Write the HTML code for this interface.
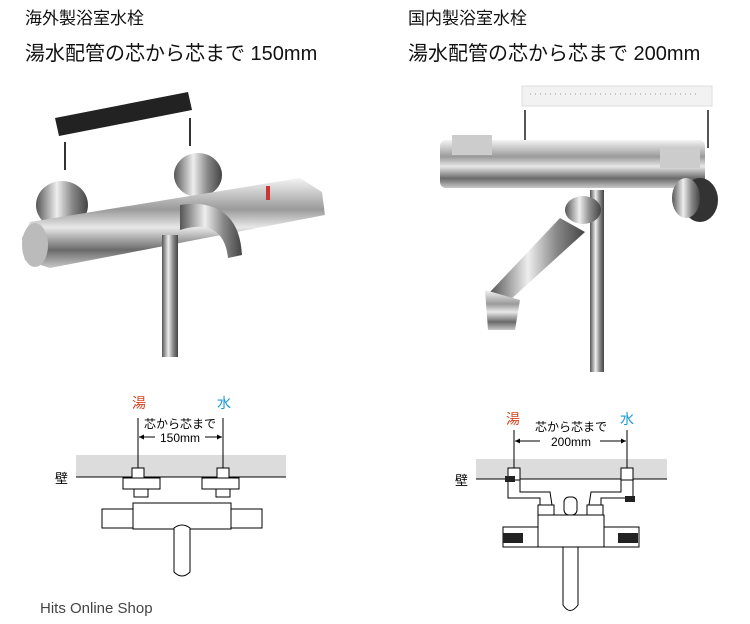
<!DOCTYPE html>
<html><head><meta charset="utf-8"><style>
body{margin:0;width:750px;height:624px;background:#fff;overflow:hidden;font-family:"Liberation Sans","Noto Sans CJK JP",sans-serif}
svg{display:block}
</style></head><body>
<svg width="750" height="624" viewBox="0 0 750 624" xmlns="http://www.w3.org/2000/svg" font-family="Liberation Sans, Noto Sans CJK JP, sans-serif">
<defs>
<linearGradient id="chr" x1="0" y1="0" x2="0" y2="1">
<stop offset="0" stop-color="#f4f4f4"/><stop offset=".35" stop-color="#9a9a9a"/><stop offset=".55" stop-color="#e8e8e8"/><stop offset=".8" stop-color="#6a6a6a"/><stop offset="1" stop-color="#c8c8c8"/></linearGradient>
<linearGradient id="chv" x1="0" y1="0" x2="1" y2="0">
<stop offset="0" stop-color="#555"/><stop offset=".4" stop-color="#eee"/><stop offset=".7" stop-color="#888"/><stop offset="1" stop-color="#444"/></linearGradient>
<marker id="ar" viewBox="0 0 10 10" refX="10" refY="5" markerWidth="6" markerHeight="5" orient="auto"><path d="M0,0L10,5L0,10z" fill="#000"/></marker>
</defs>
<!-- titles -->
<text x="25" y="24" font-size="17" fill="#111">海外製浴室水栓</text>
<text x="25" y="60" font-size="20" fill="#111">湯水配管の芯から芯まで 150mm</text>
<text x="408" y="24" font-size="17" fill="#111">国内製浴室水栓</text>
<text x="408" y="60" font-size="20" fill="#111">湯水配管の芯から芯まで 200mm</text>

<!-- left photo -->
<polygon points="55,118 188,92 192,110 59,136" fill="#222"/>
<line x1="65" y1="142" x2="65" y2="170" stroke="#333" stroke-width="2"/>
<line x1="190" y1="118" x2="190" y2="146" stroke="#333" stroke-width="2"/>
<ellipse cx="62" cy="205" rx="26" ry="24" fill="url(#chv)"/>
<ellipse cx="198" cy="175" rx="24" ry="22" fill="url(#chv)"/>
<polygon points="30,222 300,178 322,192 325,215 50,268 25,260 22,238" fill="url(#chr)"/>
<ellipse cx="35" cy="245" rx="13" ry="22" fill="#bbb"/>
<path d="M180,205 C210,200 240,210 242,255 L228,258 C225,228 205,222 180,230z" fill="url(#chv)"/>
<rect x="162" y="235" width="16" height="122" fill="url(#chv)"/>
<rect x="266" y="186" width="4" height="14" fill="#c33"/>

<!-- right photo -->
<rect x="522" y="86" width="190" height="20" fill="#f2f2f2" stroke="#ddd"/>
<g stroke="#999" stroke-width="1">
<line x1="530" y1="94" x2="700" y2="94" stroke-dasharray="1 4"/>
</g>
<line x1="525" y1="110" x2="525" y2="142" stroke="#555" stroke-width="2"/>
<line x1="708" y1="110" x2="708" y2="148" stroke="#555" stroke-width="2"/>
<rect x="440" y="140" width="265" height="48" rx="6" fill="url(#chr)"/>
<rect x="452" y="135" width="40" height="20" fill="#ccc"/>
<rect x="660" y="148" width="40" height="20" fill="#ccc"/>
<ellipse cx="700" cy="200" rx="18" ry="22" fill="#333"/>
<ellipse cx="686" cy="198" rx="14" ry="20" fill="url(#chv)"/>
<rect x="590" y="190" width="14" height="182" fill="url(#chv)"/>
<ellipse cx="583" cy="210" rx="18" ry="14" fill="url(#chv)"/>
<polygon points="560,218 585,232 510,300 490,292" fill="url(#chv)"/>
<polygon points="485,290 520,300 515,330 488,330" fill="url(#chr)"/>

<!-- left diagram -->
<rect x="76" y="455" width="210" height="22" fill="#dcdcdc"/>
<line x1="76" y1="477" x2="286" y2="477" stroke="#000"/>
<text x="55" y="483" font-size="13" fill="#000">壁</text>
<text x="132" y="408" font-size="14" fill="#d9431e">湯</text>
<text x="217" y="408" font-size="14" fill="#1b9ad6">水</text>
<line x1="138" y1="418" x2="138" y2="470" stroke="#000"/>
<line x1="223" y1="418" x2="223" y2="470" stroke="#000"/>
<text x="180" y="428" font-size="12" text-anchor="middle">芯から芯まで</text>
<text x="180" y="442" font-size="12" text-anchor="middle">150mm</text>
<line x1="155" y1="437" x2="139" y2="437" stroke="#000" marker-end="url(#ar)"/>
<line x1="205" y1="437" x2="222" y2="437" stroke="#000" marker-end="url(#ar)"/>
<g fill="#fff" stroke="#000">
<rect x="132" y="468" width="12" height="10"/><rect x="217" y="468" width="12" height="10"/>
<rect x="123" y="478" width="37" height="11"/><rect x="202" y="478" width="37" height="11"/>
<rect x="134" y="489" width="14" height="8"/><rect x="216" y="489" width="14" height="8"/>
<rect x="102" y="509" width="160" height="19"/>
<rect x="133" y="503" width="98" height="26"/>
<path d="M174,528 L174,572 Q182,580 190,572 L190,528 Q182,522 174,528z"/>
</g>

<!-- right diagram -->
<rect x="476" y="459" width="191" height="20" fill="#dcdcdc"/>
<line x1="476" y1="479" x2="667" y2="479" stroke="#000"/>
<text x="455" y="485" font-size="13" fill="#000">壁</text>
<text x="506" y="424" font-size="14" fill="#d9431e">湯</text>
<text x="620" y="424" font-size="14" fill="#1b9ad6">水</text>
<line x1="514" y1="430" x2="514" y2="470" stroke="#000"/>
<line x1="627" y1="430" x2="627" y2="470" stroke="#000"/>
<text x="571" y="431" font-size="12" text-anchor="middle">芯から芯まで</text>
<text x="571" y="446" font-size="12" text-anchor="middle">200mm</text>
<line x1="540" y1="441" x2="515" y2="441" stroke="#000" marker-end="url(#ar)"/>
<line x1="600" y1="441" x2="626" y2="441" stroke="#000" marker-end="url(#ar)"/>
<g fill="#fff" stroke="#000">
<rect x="508" y="468" width="12" height="12"/><rect x="621" y="468" width="12" height="12"/>
<path d="M508,480 L520,480 L520,492 L550,492 L552,505 L540,505 L540,498 L508,498z"/>
<path d="M633,480 L621,480 L621,492 L591,492 L589,505 L601,505 L601,498 L633,498z"/>
<rect x="538" y="505" width="16" height="10"/><rect x="587" y="505" width="16" height="10"/>
<rect x="564" y="497" width="13" height="18" rx="5"/>
<rect x="538" y="515" width="66" height="32"/>
<rect x="503" y="527" width="35" height="20"/><rect x="604" y="527" width="35" height="20"/>
<path d="M563,547 L563,605 Q570,616 578,605 L578,547z"/>
</g>
<rect x="503" y="533" width="20" height="10" fill="#222"/>
<rect x="618" y="533" width="20" height="10" fill="#222"/>
<rect x="505" y="476" width="10" height="6" fill="#222"/>
<rect x="625" y="496" width="10" height="6" fill="#222"/>

<text x="40" y="613" font-size="15" fill="#444">Hits Online Shop</text>
</svg>
</body></html>
